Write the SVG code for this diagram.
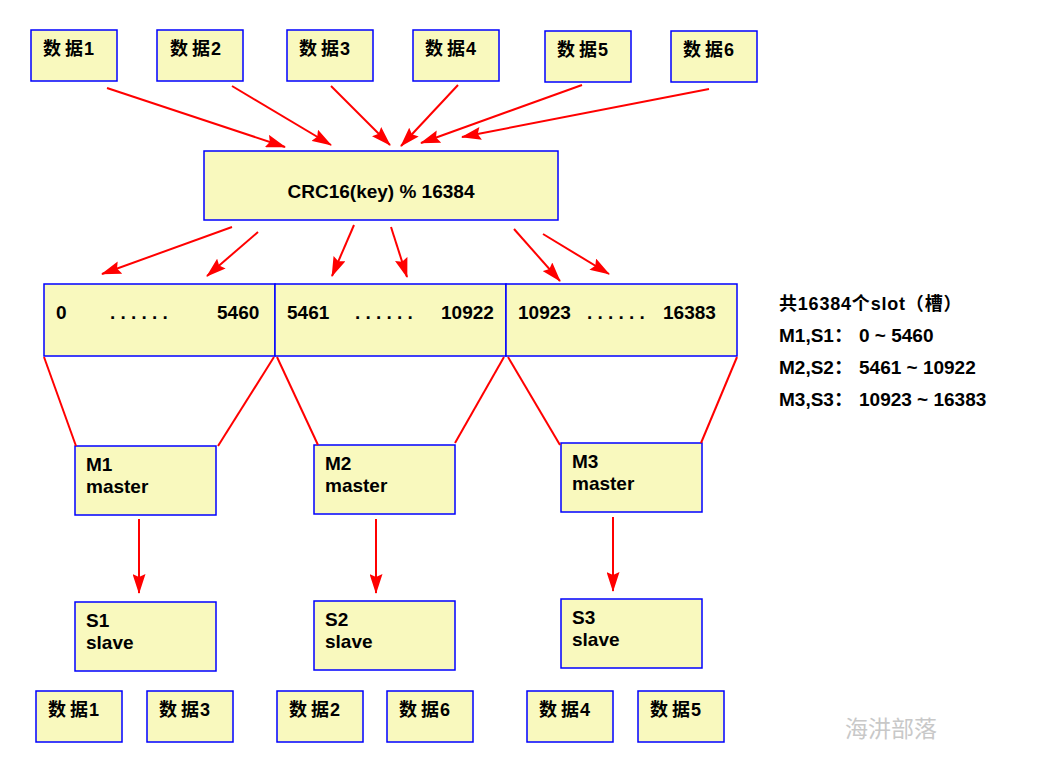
<svg xmlns="http://www.w3.org/2000/svg" width="1039" height="776" viewBox="0 0 1039 776">
<style>
.box{fill:#F9F9BE;stroke:#0000FF;stroke-width:1.5}
.t{font-family:"Liberation Sans","Noto Sans CJK SC",sans-serif;font-weight:bold;font-size:18px;fill:#000}
.n{font-size:19px}
.w{font-family:"Noto Sans CJK SC",serif;font-size:23px;fill:#c8c8c8}
.c line{stroke:#FF0000;stroke-width:2}
.c .a{marker-end:url(#ah)}
</style>
<defs>
<marker id="ah" viewBox="0 0 20 13" refX="19" refY="6.5" markerWidth="20" markerHeight="13" markerUnits="userSpaceOnUse" orient="auto">
<path d="M0,0 L20,6.5 L0,13 L3,6.5 Z" fill="#FF0000"/>
</marker>
</defs>
<rect width="1039" height="776" fill="#fff"/>
<g id="d1"><rect class="box" x="31" y="30" width="86" height="51"/><text class="t" x="43" y="55">数<tspan dx="4">据</tspan><tspan dx="1">1</tspan></text></g>
<g id="d2"><rect class="box" x="157" y="30" width="86" height="51"/><text class="t" x="170" y="55">数<tspan dx="4">据</tspan><tspan dx="1">2</tspan></text></g>
<g id="d3"><rect class="box" x="287" y="30" width="86" height="51"/><text class="t" x="299" y="55">数<tspan dx="4">据</tspan><tspan dx="1">3</tspan></text></g>
<g id="d4"><rect class="box" x="413" y="30" width="86" height="51"/><text class="t" x="425" y="55">数<tspan dx="4">据</tspan><tspan dx="1">4</tspan></text></g>
<g id="d5"><rect class="box" x="545" y="31" width="86" height="51"/><text class="t" x="557" y="56">数<tspan dx="4">据</tspan><tspan dx="1">5</tspan></text></g>
<g id="d6"><rect class="box" x="671" y="31" width="86" height="51"/><text class="t" x="683" y="56">数<tspan dx="4">据</tspan><tspan dx="1">6</tspan></text></g>
<g id="crc"><rect class="box" x="204" y="151" width="354" height="69"/><text class="t" x="381" y="198" text-anchor="middle" style="font-size:19px">CRC16(key) % 16384</text></g>
<g id="slot1"><rect class="box" x="44" y="284" width="231" height="72"/><text class="t n" y="319"><tspan x="56">0</tspan><tspan x="110" letter-spacing="5.2">......</tspan><tspan x="217">5460</tspan></text></g>
<g id="slot2"><rect class="box" x="275" y="284" width="231" height="72"/><text class="t n" y="319"><tspan x="287">5461</tspan><tspan x="355" letter-spacing="5.2">......</tspan><tspan x="441">10922</tspan></text></g>
<g id="slot3"><rect class="box" x="506" y="284" width="231" height="72"/><text class="t n" y="319"><tspan x="518">10923</tspan><tspan x="587" letter-spacing="5.2">......</tspan><tspan x="663">16383</tspan></text></g>
<g id="m1"><rect class="box" x="75" y="446" width="141" height="69"/><text class="t n"><tspan x="86" y="471">M1</tspan><tspan x="86" y="493">master</tspan></text></g>
<g id="m2"><rect class="box" x="314" y="445" width="141" height="69"/><text class="t n"><tspan x="325" y="470">M2</tspan><tspan x="325" y="492">master</tspan></text></g>
<g id="m3"><rect class="box" x="561" y="443" width="141" height="69"/><text class="t n"><tspan x="572" y="468">M3</tspan><tspan x="572" y="490">master</tspan></text></g>
<g id="s1"><rect class="box" x="75" y="602" width="141" height="69"/><text class="t n"><tspan x="86" y="627">S1</tspan><tspan x="86" y="649">slave</tspan></text></g>
<g id="s2"><rect class="box" x="314" y="601" width="141" height="69"/><text class="t n"><tspan x="325" y="626">S2</tspan><tspan x="325" y="648">slave</tspan></text></g>
<g id="s3"><rect class="box" x="561" y="599" width="141" height="69"/><text class="t n"><tspan x="572" y="624">S3</tspan><tspan x="572" y="646">slave</tspan></text></g>
<g id="b1"><rect class="box" x="36" y="691" width="86" height="51"/><text class="t" x="48" y="716">数<tspan dx="4">据</tspan><tspan dx="1">1</tspan></text></g>
<g id="b3"><rect class="box" x="147" y="691" width="86" height="51"/><text class="t" x="159" y="716">数<tspan dx="4">据</tspan><tspan dx="1">3</tspan></text></g>
<g id="b2"><rect class="box" x="277" y="691" width="86" height="51"/><text class="t" x="289" y="716">数<tspan dx="4">据</tspan><tspan dx="1">2</tspan></text></g>
<g id="b6"><rect class="box" x="387" y="691" width="86" height="51"/><text class="t" x="399" y="716">数<tspan dx="4">据</tspan><tspan dx="1">6</tspan></text></g>
<g id="b4"><rect class="box" x="527" y="691" width="86" height="51"/><text class="t" x="539" y="716">数<tspan dx="4">据</tspan><tspan dx="1">4</tspan></text></g>
<g id="b5"><rect class="box" x="638" y="691" width="86" height="51"/><text class="t" x="650" y="716">数<tspan dx="4">据</tspan><tspan dx="1">5</tspan></text></g>
<g id="legend">
<text class="t" x="779" y="310" letter-spacing="0.8">共16384个slot（槽）</text>
<text class="t n" y="342"><tspan x="779">M1,S1：</tspan><tspan x="859">0 ~ 5460</tspan></text>
<text class="t n" y="374"><tspan x="779">M2,S2：</tspan><tspan x="859">5461 ~ 10922</tspan></text>
<text class="t n" y="406"><tspan x="779">M3,S3：</tspan><tspan x="859">10923 ~ 16383</tspan></text>
</g>
<text class="w" x="845" y="737">海汫部落</text>
<g id="connectors" class="c">
<line class="a" x1="107" y1="88" x2="285" y2="147"/>
<line class="a" x1="232" y1="86" x2="331" y2="145"/>
<line class="a" x1="331" y1="86" x2="390" y2="145"/>
<line class="a" x1="458" y1="85" x2="401" y2="146"/>
<line class="a" x1="582" y1="85" x2="421" y2="143"/>
<line class="a" x1="709" y1="89" x2="462" y2="137"/>
<line class="a" x1="232" y1="227" x2="102" y2="274"/>
<line class="a" x1="258" y1="232" x2="207" y2="276"/>
<line class="a" x1="354" y1="225" x2="332" y2="276"/>
<line class="a" x1="391" y1="227" x2="407" y2="277"/>
<line class="a" x1="514" y1="229" x2="560" y2="281"/>
<line class="a" x1="543" y1="234" x2="609" y2="274"/>
<line x1="44" y1="357" x2="76" y2="446"/>
<line x1="274" y1="357" x2="218" y2="446"/>
<line x1="277" y1="357" x2="318" y2="445"/>
<line x1="504" y1="357" x2="455" y2="443"/>
<line x1="508" y1="357" x2="560" y2="445"/>
<line x1="737" y1="357" x2="701" y2="443"/>
<line class="a" x1="139" y1="519" x2="139" y2="593"/>
<line class="a" x1="376" y1="519" x2="376" y2="593"/>
<line class="a" x1="613" y1="517" x2="613" y2="591"/>
</g>
</svg>
